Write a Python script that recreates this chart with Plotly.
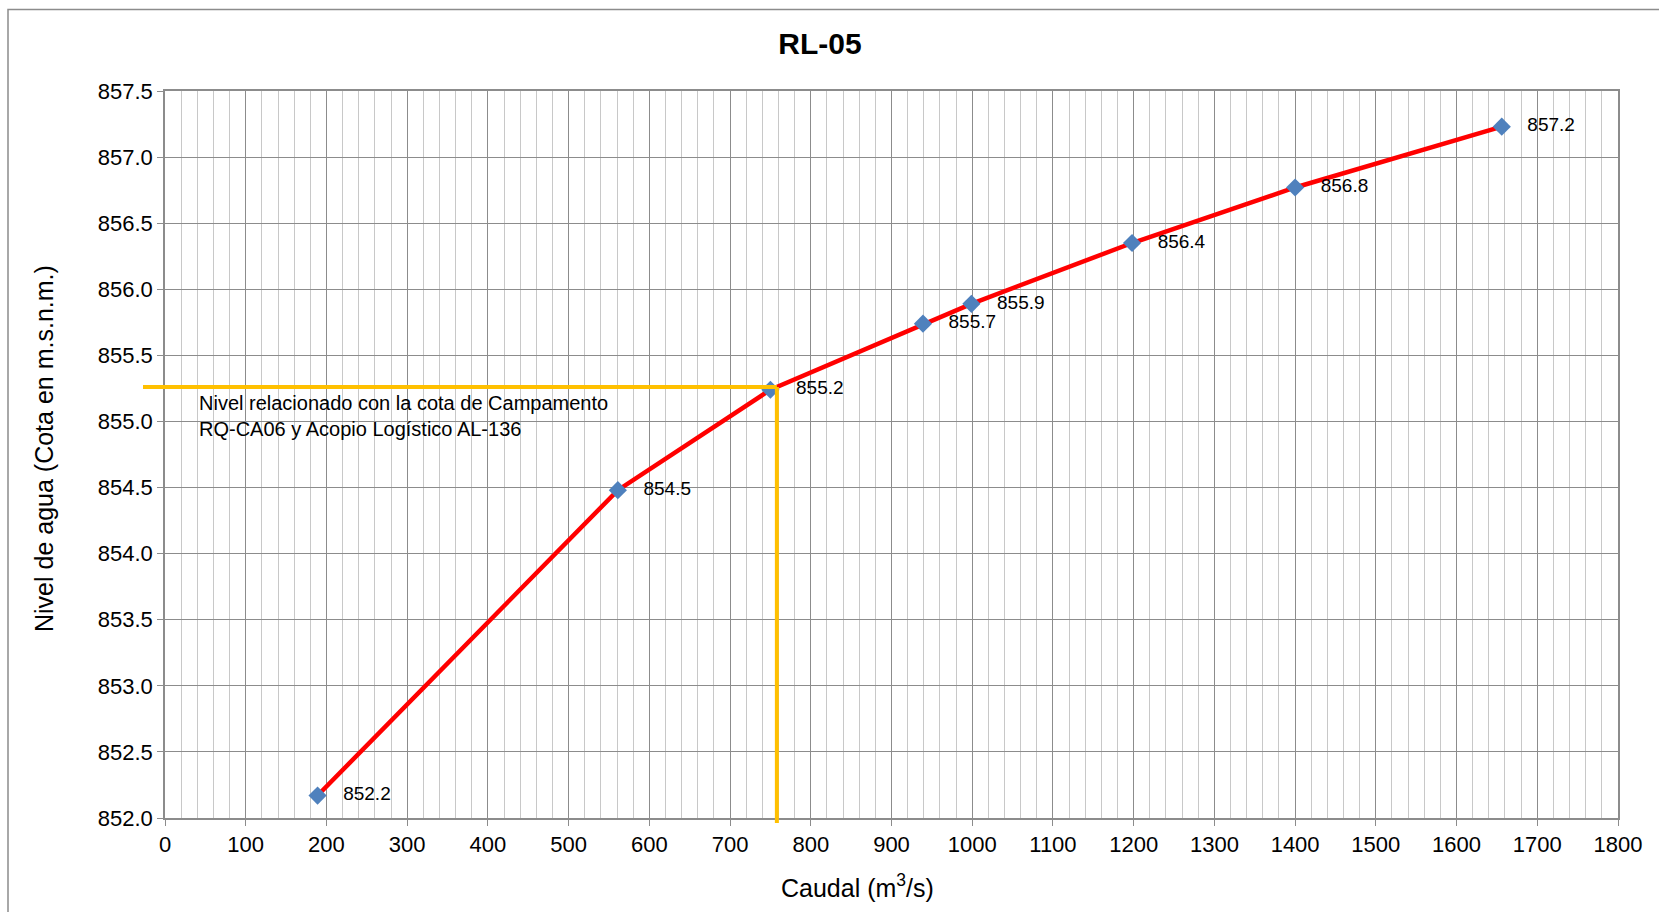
import plotly.graph_objects as go

# ---- data ----
caudal = [189, 561, 750, 939, 999, 1198, 1400, 1656]
nivel = [852.17, 854.48, 855.24, 855.74, 855.89, 856.35, 856.77, 857.23]
etiquetas = ["852.2", "854.5", "855.2", "855.7", "855.9", "856.4", "856.8", "857.2"]
ref_caudal = 758
ref_nivel = 855.26
titulo = "RL-05"
titulo_x = "Caudal (m<sup>3</sup>/s)"
titulo_y = "Nivel de agua (Cota en m.s.n.m.)"
nota = "Nivel relacionado con la cota de Campamento<br>RQ-CA06 y Acopio Logístico AL-136"

W, H = 1659, 912
ML, MR, MT, MB = 165, 41, 91, 94
XR = [0, 1800]
YR = [852.0, 857.5]
pw = W - ML - MR
ph = H - MT - MB

def px_x(v):
    return (v - XR[0]) / (XR[1] - XR[0])

def px_y(v):
    return (v - YR[0]) / (YR[1] - YR[0])

FONT = "Liberation Sans, Arial, sans-serif"

fig = go.Figure()
fig.add_trace(go.Scatter(
    x=caudal, y=nivel, mode="lines+markers+text",
    line=dict(color="#FF0000", width=4.5),
    marker=dict(symbol="diamond", size=14, color="#4F81BD"),
    text=["   " + t for t in etiquetas], textposition="middle right",
    textfont=dict(family=FONT, size=19, color="#000000"),
    cliponaxis=False, showlegend=False,
))

yellow = "#FFC000"
fig.add_shape(type="line", xref="paper", yref="paper",
              x0=-22 / pw, x1=px_x(ref_caudal), y0=px_y(ref_nivel), y1=px_y(ref_nivel),
              line=dict(color=yellow, width=4), layer="above")
fig.add_shape(type="line", xref="paper", yref="paper",
              x0=px_x(ref_caudal), x1=px_x(ref_caudal), y0=px_y(ref_nivel), y1=-5 / ph,
              line=dict(color=yellow, width=4), layer="above")

# outer chart border (top & left visible)
fig.add_shape(type="rect", xref="paper", yref="paper",
              x0=(8 - ML) / pw, x1=(W + 20 - ML) / pw,
              y0=-(MB + 20) / ph, y1=(H - MB - 9.5) / ph,
              line=dict(color="#8c8c8c", width=1.5), fillcolor="rgba(0,0,0,0)", layer="below")

fig.add_annotation(xref="paper", yref="paper", x=(197 - ML) / pw, y=(H - MB - 416) / ph,
                   text=nota, showarrow=False, xanchor="left", yanchor="middle", align="left",
                   font=dict(family=FONT, size=20, color="#000000"))

# axis titles
fig.add_annotation(xref="paper", yref="paper", x=(857 - ML) / pw, y=(H - MB - 886) / ph,
                   text=titulo_x, showarrow=False, xanchor="center", yanchor="middle",
                   font=dict(family=FONT, size=25, color="#000000"))
fig.add_annotation(xref="paper", yref="paper", x=(44 - ML) / pw, y=(H - MB - 449) / ph,
                   text=titulo_y, showarrow=False, xanchor="center", yanchor="middle",
                   textangle=-90, font=dict(family=FONT, size=25, color="#000000"))

fig.update_layout(
    width=W, height=H,
    margin=dict(l=ML, r=MR, t=MT, b=MB),
    paper_bgcolor="white", plot_bgcolor="white",
    font=dict(family=FONT, color="#000000"),
    title=dict(text="<b>" + titulo + "</b>", x=(820) / W, xanchor="center",
               y=1 - 43 / H, yanchor="middle", font=dict(size=30, family=FONT)),
    xaxis=dict(range=XR, dtick=100, tick0=0, showgrid=True, gridcolor="#8c8c8c", gridwidth=1,
               minor=dict(dtick=20, showgrid=True, gridcolor="#c8c8c8", gridwidth=1),
               showline=True, linecolor="#8c8c8c", linewidth=1.5, mirror=True,
               ticks="outside", ticklen=6, tickcolor="#8c8c8c",
               tickfont=dict(size=22, family=FONT),
               zeroline=False),
    yaxis=dict(range=YR, dtick=0.5, tick0=852, tickformat=".1f", showgrid=True,
               gridcolor="#8c8c8c", gridwidth=1,
               showline=True, linecolor="#8c8c8c", linewidth=1.5, mirror=True,
               ticks="outside", ticklen=6, tickcolor="#8c8c8c",
               tickfont=dict(size=22, family=FONT),
               zeroline=False),
)

fig.write_html("out.html")
